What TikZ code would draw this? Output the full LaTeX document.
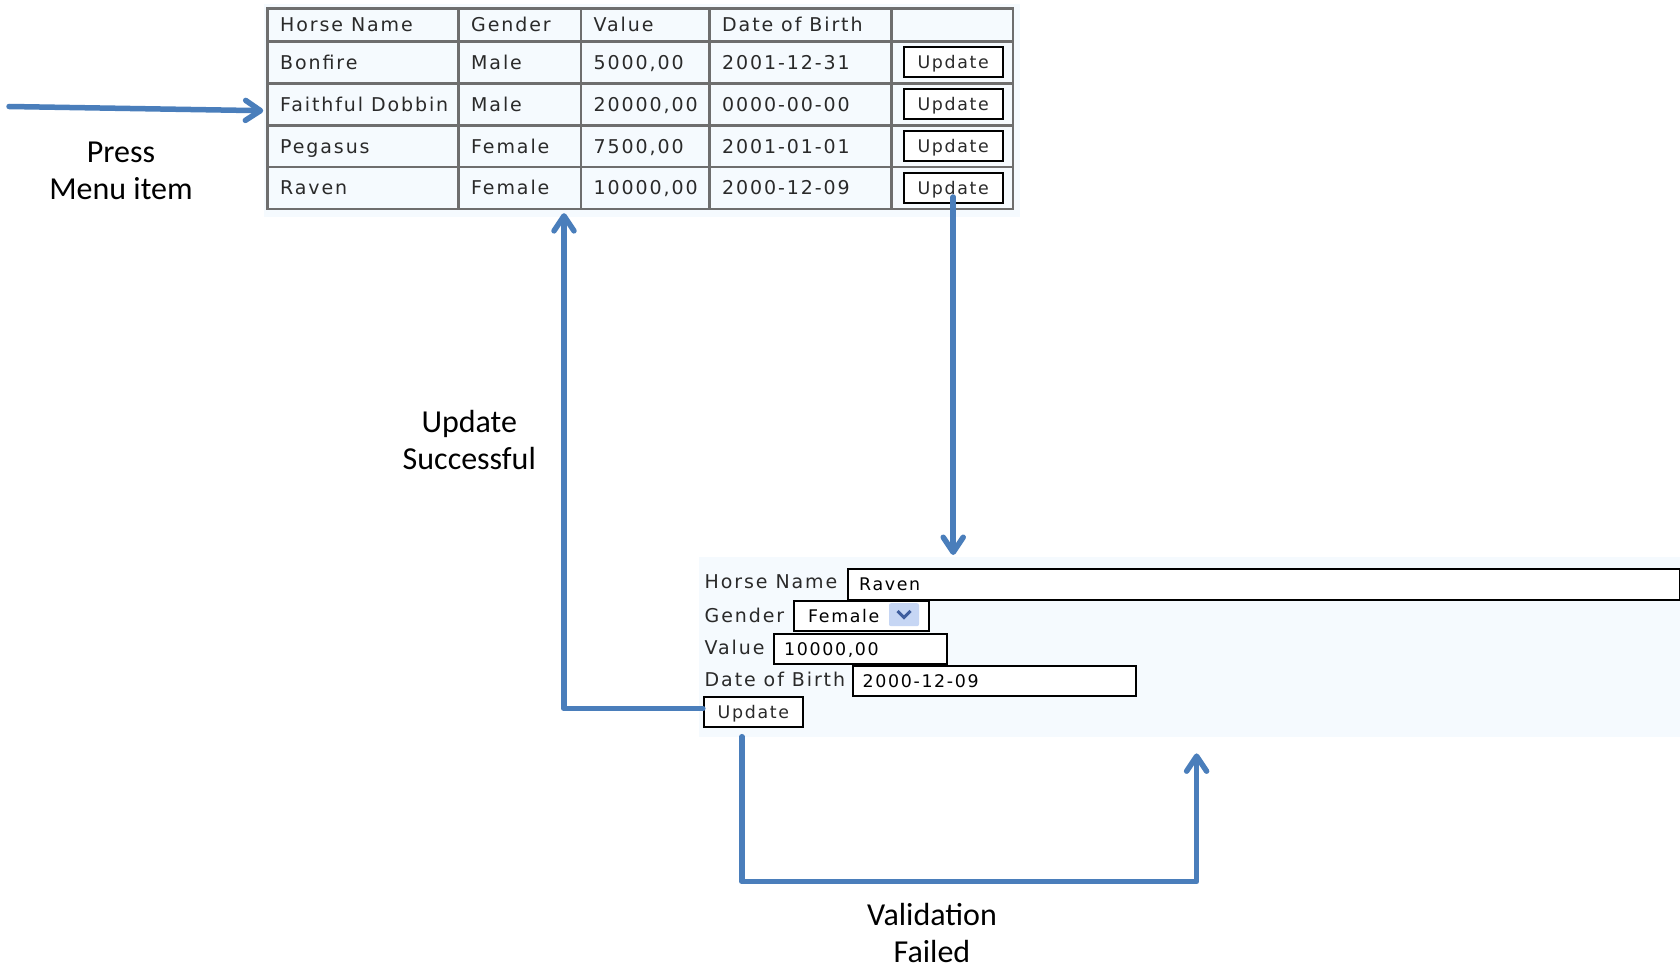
\documentclass[tikz,border=0pt]{standalone}
\usepackage{fontspec}
\setmainfont{Carlito}
\newfontfamily\webfont{DejaVu Sans}[LetterSpace=10]
\newfontfamily\btnfont{DejaVu Sans}[LetterSpace=9.5]
\usetikzlibrary{arrows.meta,calc}
\definecolor{arrowblue}{HTML}{4A7EBB}
\definecolor{gridgrey}{HTML}{6E6E6E}
\definecolor{panelbg}{HTML}{F5FAFE}
\definecolor{webtext}{HTML}{2A2A2A}
\definecolor{ddfill}{HTML}{C6D6F4}
\definecolor{ddarrow}{HTML}{3F5E9E}
\begin{document}
\begin{tikzpicture}[x=1pt,y=-1pt,
  arr/.style={draw=arrowblue, line width=5.5pt, line cap=round, line join=round,
    -{Straight Barb[length=15pt,width=20pt,line cap=round,line join=round]}},
  gridline/.style={draw=gridgrey, line width=2.5pt},
  celltext/.style={anchor=base west, inner sep=0pt, font=\webfont\fontsize{19}{22}\selectfont, text=webtext},
  valtext/.style={anchor=base west, inner sep=0pt, font=\btnfont\fontsize{17.4}{20}\selectfont, text=black},
  btn/.style={draw=black, line width=2pt, fill=white, inner sep=0pt,
    minimum width=99pt, minimum height=30pt, text height=12.7pt, text depth=0pt,
    font=\btnfont\fontsize{17.4}{20}\selectfont, text=webtext},
  inbox/.style={draw=black, line width=2pt, fill=white, inner sep=0pt, anchor=north west},
  lbl/.style={align=center, font=\fontsize{32}{37.5}\selectfont, text=black, inner sep=0pt},
]
\useasboundingbox (0,0) rectangle (1680,968);
\fill[white] (0,0) rectangle (1680,968);

% ---------- table ----------
\fill[panelbg] (264,4) rectangle (1020,217);
\node[gridline, fill=panelbg, minimum width=745.5pt, minimum height=200.3pt, inner sep=0pt] (table) at (640.25,108.75) {};
\foreach \x in {458.7,580.9,709.3,891.5} \draw[gridline] (\x,8.6) -- (\x,208.9);
\foreach \y in {41.5,83.5,125.3,167.1} \draw[gridline] (267.5,\y) -- (1013,\y);

\node[celltext] (h1) at (280,32) {Horse Name};
\node[celltext] (h2) at (471,32) {Gender};
\node[celltext] (h3) at (593.5,32) {Value};
\node[celltext] (h4) at (722,32) {Date of Birth};

\node[celltext] (n1) at (280,69.5) {Bonfire};
\node[celltext] (g1) at (471,69.5) {Male};
\node[celltext] (v1) at (593.5,69.5) {5000,00};
\node[celltext] (d1) at (722,69.5) {2001-12-31};
\node[btn] (u1) at (953.2,62) {Update};

\node[celltext] (n2) at (280,111.4) {Faithful Dobbin};
\node[celltext] (g2) at (471,111.4) {Male};
\node[celltext] (v2) at (593.5,111.4) {20000,00};
\node[celltext] (d2) at (722,111.4) {0000-00-00};
\node[btn] (u2) at (953.2,104) {Update};

\node[celltext] (n3) at (280,153.2) {Pegasus};
\node[celltext] (g3) at (471,153.2) {Female};
\node[celltext] (v3) at (593.5,153.2) {7500,00};
\node[celltext] (d3) at (722,153.2) {2001-01-01};
\node[btn] (u3) at (953.2,146) {Update};

\node[celltext] (n4) at (280,195) {Raven};
\node[celltext] (g4) at (471,195) {Female};
\node[celltext] (v4) at (593.5,195) {10000,00};
\node[celltext] (d4) at (722,195) {2000-12-09};
\node[btn] (u4) at (953.2,188) {Update};

% ---------- form ----------
\node[fill=panelbg, minimum width=981.4pt, minimum height=180pt, inner sep=0pt, anchor=north west] (form) at (698.6,557) {};

\node[celltext] (lhn) at (704.5,588.5) {Horse Name};
\node[celltext] (lgen) at (704.5,622.5) {Gender};
\node[celltext] (lval) at (704.5,654.5) {Value};
\node[celltext] (ldob) at (704.5,686) {Date of Birth};

\node[inbox, minimum width=832.1pt, minimum height=31pt] (hnbox) at (846.9,567.5) {};
\node[inbox, minimum width=135.4pt, minimum height=30pt] (genbox) at (792.6,600) {};
\node[inbox, minimum width=173pt, minimum height=30pt] (valbox) at (773.4,632.7) {};
\node[inbox, minimum width=283.1pt, minimum height=30pt] (dobbox) at (851.9,665) {};

\node[valtext] (hnval) at (859,590.5) {Raven};
\node[valtext] (genval) at (808,622.5) {Female};
\node[valtext] (valval) at (784,655) {10000,00};
\node[valtext] (dobval) at (862.5,687.5) {2000-12-09};

\node[fill=ddfill, rounded corners=2pt, minimum width=30pt, minimum height=23pt, inner sep=0pt] (dd) at (904,614.7) {};
\draw[ddarrow, line width=3pt] (897.5,611) -- (904,617.5) -- (910.5,611);

\node[btn] (fu) at (753.35,711.7) {Update};

% ---------- connectors ----------
\coordinate (pm) at (9,106.5);
\draw[arr, shorten >=3pt] (pm) -- ([yshift=-2pt]table.west);
\draw[arr, shorten <=-7pt, shorten >=2pt] (u4.south) -- (u4.south |- form.north);
\draw[arr, shorten >=3pt] ([yshift=3pt]fu.west) -| ([xshift=-76.25pt]table.south);
\draw[arr, shorten <=9pt, shorten >=16pt] ([xshift=-11.5pt]fu.south) -- ++(0,154) -| ([xshift=7.1pt]form.south);

% ---------- labels ----------
\node[lbl] (press) at (121,171) {Press\\Menu item};
\node[lbl] (succ) at (469.3,440) {Update\\Successful};
\node[lbl] (valf) at (932,933) {Validation\\Failed};
\end{tikzpicture}
\end{document}
